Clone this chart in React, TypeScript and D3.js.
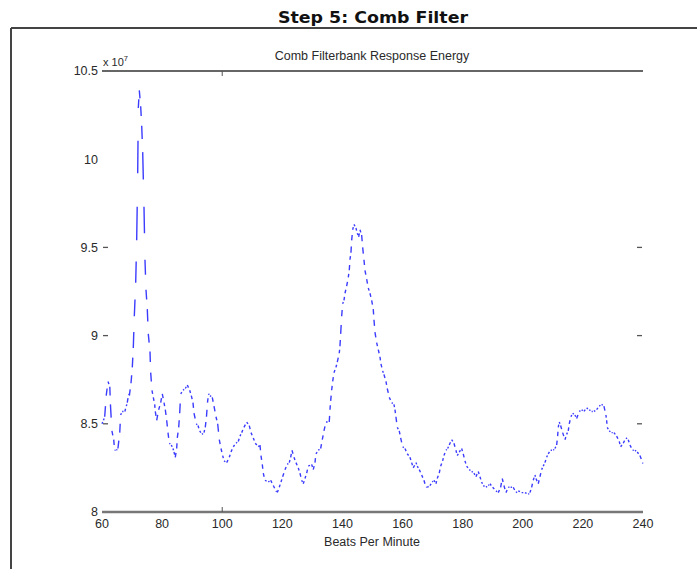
import React from "react";
import * as d3 from "d3";

// Beats per minute (x) and response energy (x 10^7)
const bpm: number[] = [
  60.0, 60.5, 60.9, 61.4, 62.0, 62.6, 62.8, 63.3, 63.9, 64.2, 64.8, 65.3, 65.9, 66.2, 66.7, 67.6, 68.1, 68.4, 68.9,
  69.1, 69.65, 70.08, 70.41, 70.75, 71.21, 71.54, 71.88, 72.08, 72.41, 72.87, 73.21, 73.54, 73.97, 74.3, 74.64, 75.07,
  75.4, 75.97, 76.2, 76.63, 77.07, 77.53, 77.73, 78.2, 78.86, 79.53, 80.06, 80.63, 81.06, 81.52, 81.96, 82.39, 83.05,
  83.62, 83.95, 84.38, 84.85, 85.05, 85.52, 85.85, 86.18, 86.95, 87.71, 88.38, 89.18, 89.71, 90.27, 90.61, 91.37, 91.94,
  92.5, 93.27, 93.93, 94.36, 94.76, 95.1, 95.43, 95.93, 96.69, 97.26, 97.92, 98.49, 99.02, 99.59, 100.15, 100.59, 101.48,
  102.35, 102.91, 103.68, 104.58, 105.34, 105.91, 106.47, 107.24, 108.14, 109.0, 109.57, 110.33, 111.0, 112.0, 112.56,
  112.89, 113.33, 113.66, 114.22, 115.32, 116.12, 116.99, 117.88, 118.32, 118.98, 119.55, 120.11, 120.88, 121.64, 122.31,
  122.77, 123.21, 123.87, 124.54, 125.3, 125.87, 126.43, 126.97, 127.53, 128.1, 128.63, 129.76, 130.29, 130.86, 131.19,
  131.96, 132.75, 133.29, 133.85, 134.52, 135.61, 135.85, 136.08, 136.41, 136.75, 137.18, 137.84, 138.28, 138.94, 139.17,
  139.41, 139.74, 140.07, 140.51, 140.84, 141.4, 141.94, 142.27, 142.5, 142.83, 143.07, 143.4, 143.83, 144.5, 144.93,
  145.4, 145.83, 146.39, 146.73, 147.16, 147.49, 148.06, 148.59, 149.16, 149.72, 150.25, 150.49, 150.82, 151.38, 151.92,
  152.48, 152.81, 153.38, 153.81, 154.48, 154.91, 155.58, 156.37, 157.14, 157.47, 157.8, 158.24, 158.9, 159.37, 160.03,
  160.8, 161.56, 162.46, 163.03, 163.56, 164.46, 164.89, 165.56, 166.36, 167.12, 167.78, 168.22, 169.11, 169.88, 170.45,
  171.11, 171.54, 172.21, 172.67, 173.34, 173.77, 174.44, 175.0, 175.54, 176.33, 177.1, 177.76, 178.2, 178.86, 179.66,
  180.19, 180.76, 181.32, 182.19, 182.99, 183.75, 184.42, 185.18, 185.75, 186.31, 186.85, 187.74, 188.51, 189.07, 189.97,
  191.07, 191.84, 192.63, 193.17, 193.73, 194.4, 195.16, 195.96, 196.83, 197.72, 198.49, 199.62, 200.72, 201.82, 202.38,
  202.95, 203.48, 204.05, 204.38, 205.14, 205.71, 206.27, 206.81, 207.37, 207.94, 208.47, 209.27, 210.14, 210.7, 211.27,
  211.6, 211.8, 212.13, 212.59, 213.26, 214.03, 214.59, 215.13, 215.46, 216.02, 216.59, 217.35, 217.92, 218.78, 219.58,
  220.35, 221.24, 222.11, 222.91, 223.67, 224.57, 225.44, 226.23, 227.0, 227.66, 227.9, 228.1, 228.76, 229.56, 230.33,
  231.22, 232.09, 232.55, 233.42, 234.32, 235.08, 235.65, 236.55, 237.31, 238.08, 238.98, 239.87, 240.0,
];

const energy: number[] = [
  8.5, 8.52, 8.54, 8.66, 8.74, 8.71, 8.61, 8.46, 8.41, 8.35, 8.35, 8.36, 8.45, 8.55, 8.57, 8.57, 8.6, 8.62, 8.67,
  8.66, 8.73, 8.82, 8.93, 9.11, 9.3, 9.54, 9.92, 10.29, 10.39, 10.3, 10.19, 10.04, 9.73, 9.43, 9.26, 9.15,
  9.01, 8.91, 8.79, 8.69, 8.65, 8.61, 8.57, 8.52, 8.58, 8.62, 8.67, 8.62, 8.58, 8.52, 8.45, 8.39, 8.38,
  8.36, 8.34, 8.31, 8.36, 8.42, 8.48, 8.56, 8.67, 8.69, 8.7, 8.72, 8.69, 8.66, 8.62, 8.56, 8.5, 8.49,
  8.46, 8.44, 8.45, 8.48, 8.54, 8.62, 8.67, 8.66, 8.65, 8.6, 8.54, 8.5, 8.41, 8.36, 8.32, 8.29, 8.28,
  8.31, 8.34, 8.37, 8.39, 8.4, 8.43, 8.45, 8.48, 8.51, 8.49, 8.45, 8.42, 8.39, 8.37, 8.38,
  8.32, 8.27, 8.22, 8.18, 8.17, 8.18, 8.15, 8.12, 8.11, 8.14, 8.17, 8.2, 8.24, 8.27, 8.28,
  8.31, 8.35, 8.31, 8.28, 8.25, 8.22, 8.18, 8.16, 8.19, 8.22, 8.26, 8.27, 8.24, 8.28, 8.33,
  8.35, 8.36, 8.41, 8.46, 8.51, 8.51, 8.58, 8.63, 8.69, 8.74, 8.79, 8.82, 8.85, 8.9, 8.94,
  9.01, 9.11, 9.18, 9.2, 9.24, 9.28, 9.33, 9.37, 9.43, 9.47, 9.54, 9.6, 9.63, 9.61, 9.58,
  9.56, 9.6, 9.57, 9.5, 9.43, 9.37, 9.32, 9.27, 9.24, 9.2, 9.15, 9.09, 9.02, 8.96, 8.92,
  8.88, 8.84, 8.8, 8.78, 8.74, 8.7, 8.65, 8.62, 8.61, 8.58, 8.54, 8.48, 8.46, 8.42, 8.37,
  8.36, 8.33, 8.31, 8.28, 8.25, 8.28, 8.26, 8.24, 8.21, 8.18, 8.14, 8.14, 8.15, 8.17, 8.18,
  8.16, 8.19, 8.22, 8.26, 8.29, 8.32, 8.35, 8.36, 8.38, 8.41, 8.39, 8.35, 8.32, 8.34, 8.36,
  8.33, 8.29, 8.26, 8.24, 8.23, 8.22, 8.2, 8.23, 8.2, 8.17, 8.15, 8.14, 8.15, 8.16, 8.14,
  8.12, 8.11, 8.14, 8.19, 8.15, 8.11, 8.14, 8.14, 8.14, 8.11, 8.12, 8.11, 8.11, 8.1, 8.11,
  8.14, 8.18, 8.21, 8.19, 8.16, 8.2, 8.24, 8.26, 8.28, 8.31, 8.33, 8.35, 8.35, 8.36, 8.38,
  8.43, 8.48, 8.51, 8.49, 8.45, 8.41, 8.44, 8.46, 8.5, 8.54, 8.56, 8.55, 8.53, 8.57, 8.58,
  8.57, 8.59, 8.58, 8.57, 8.57, 8.58, 8.6, 8.61, 8.6, 8.55, 8.52, 8.48, 8.46, 8.45, 8.45,
  8.43, 8.4, 8.37, 8.39, 8.42, 8.41, 8.38, 8.35, 8.35, 8.34, 8.32, 8.28, 8.27,
];

const xTicks: number[] = [60, 80, 100, 120, 140, 160, 180, 200, 220, 240];
const yTicks: number[] = [8, 8.5, 9, 9.5, 10, 10.5];
const yTickLabels: string[] = ["8", "8.5", "9", "9.5", "10", "10.5"];
const yInnerTicks: number[] = [8.5, 9, 9.5];
const xInnerTicks: number[] = [100];

const W = 697;
const H = 569;
const left = 102;
const right = 643;
const top = 71;
const bottom = 512;
const axisFont = "'Liberation Sans', Arial, sans-serif";
const textColor = "#2a2a2a";

export default function App() {
  const x = d3.scaleLinear().domain([60, 240]).range([left, right]);
  const y = d3.scaleLinear().domain([8, 10.5]).range([bottom, top]);

  // MATLAB-style dashed rendering: dash pattern restarts on every segment
  const frac = 0.5;
  let d = "";
  for (let i = 0; i < bpm.length - 1; i++) {
    const x0 = x(bpm[i]);
    const y0 = y(energy[i]);
    const x1 = x(bpm[i + 1]);
    const y1 = y(energy[i + 1]);
    d += `M${x0.toFixed(2)},${y0.toFixed(2)}L${(x0 + (x1 - x0) * frac).toFixed(2)},${(y0 + (y1 - y0) * frac).toFixed(2)}`;
  }

  return (
    <svg
      width={W}
      height={H}
      viewBox={`0 0 ${W} ${H}`}
      style={{ position: "absolute", left: 0, top: 0, background: "#fff" }}
    >
      <rect x={0} y={0} width={W} height={H} fill="#fff" />
      {/* slide title */}
      <text
        x={373}
        y={23}
        textAnchor="middle"
        fontFamily="'DejaVu Sans', Verdana, sans-serif"
        fontWeight="bold"
        fontSize={16}
        textLength={190}
        lengthAdjust="spacingAndGlyphs"
        fill="#111"
      >
        Step 5: Comb Filter
      </text>
      {/* frame */}
      <line x1={11} y1={28} x2={W} y2={28} stroke="#444" strokeWidth={2} />
      <line x1={11} y1={28} x2={11} y2={H} stroke="#444" strokeWidth={2} />

      {/* plot title */}
      <text
        x={372}
        y={60}
        textAnchor="middle"
        fontFamily={axisFont}
        fontSize={12.5}
        fill={textColor}
      >
        Comb Filterbank Response Energy
      </text>
      {/* exponent */}
      <text x={103} y={66} fontFamily={axisFont} fontSize={11} fill={textColor}>
        x 10
        <tspan dy={-5} fontSize={7.5}>7</tspan>
      </text>

      {/* axes lines */}
      <line x1={left} y1={top} x2={right} y2={top} stroke="#333" strokeWidth={1.3} />
      <line x1={left} y1={bottom} x2={right} y2={bottom} stroke="#777" strokeWidth={2.5} />

      {/* x inner ticks */}
      {xInnerTicks.map((t) => (
        <g key={`xt${t}`}>
          <line x1={x(t)} x2={x(t)} y1={bottom} y2={bottom - 5} stroke="#555" strokeWidth={1} />
          <line x1={x(t)} x2={x(t)} y1={top} y2={top + 5} stroke="#555" strokeWidth={1} />
        </g>
      ))}
      {/* y inner ticks */}
      {yInnerTicks.map((t) => (
        <g key={`yt${t}`}>
          <line x1={left + 1} x2={left + 6} y1={y(t)} y2={y(t)} stroke="#555" strokeWidth={1.3} />
          <line x1={right - 6} x2={right - 1} y1={y(t)} y2={y(t)} stroke="#555" strokeWidth={1.3} />
        </g>
      ))}

      {/* y labels */}
      {yTicks.map((t, i) => (
        <text
          key={`yl${t}`}
          x={left - 4}
          y={y(t)}
          dy="0.35em"
          textAnchor="end"
          fontFamily={axisFont}
          fontSize={12.5}
          fill={textColor}
        >
          {yTickLabels[i]}
        </text>
      ))}
      {/* x labels */}
      {xTicks.map((t) => (
        <text
          key={`xl${t}`}
          x={x(t)}
          y={bottom + 16}
          textAnchor="middle"
          fontFamily={axisFont}
          fontSize={12.5}
          fill={textColor}
        >
          {t}
        </text>
      ))}
      <text
        x={372}
        y={bottom + 34}
        textAnchor="middle"
        fontFamily={axisFont}
        fontSize={12.5}
        fill={textColor}
      >
        Beats Per Minute
      </text>

      {/* response curve */}
      <path d={d} fill="none" stroke="#3c3cff" strokeWidth={1.4} strokeLinecap="butt" />
    </svg>
  );
}
